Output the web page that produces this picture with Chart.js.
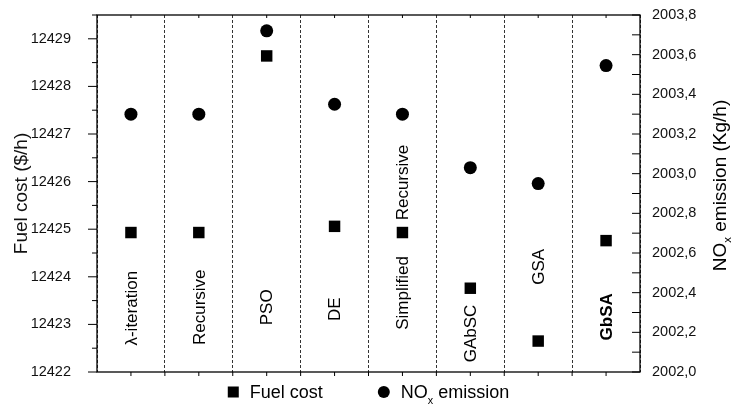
<!DOCTYPE html>
<html lang="en">
<head>
    <meta charset="UTF-8">
    <title>Fuel cost and NOx emission</title>
    <script src="https://cdn.jsdelivr.net/npm/chart.js"></script>
    <style>
        html, body { margin: 0; padding: 0; background: #fff; }
        #wrap { width: 732px; height: 407px; }
    </style>
</head>
<body>
    <div id="wrap">
        <canvas id="myChart"></canvas>
    </div>
</body>
<script>

    const categories = ['λ-iteration', 'Recursive', 'PSO', 'DE', 'Simplified Recursive', 'GAbSC', 'GSA', 'GbSA']
    const fuelCost = [12424.93, 12424.93, 12428.64, 12425.06, 12424.93, 12423.76, 12422.65, 12424.76]
    const noxEmission = [2003.30, 2003.30, 2003.72, 2003.35, 2003.30, 2003.03, 2002.95, 2003.545]

    // axis ranges
    const fuelMin = 12422, fuelMax = 12429.5
    const noxMin = 2002.0, noxMax = 2003.8

    // category names written inside the plot (centre given on the fuel cost axis)
    const labelLines = [['λ-iteration'], ['Recursive'], ['PSO'], ['DE'], ['Simplified', 'Recursive'], ['GAbSC'], ['GSA'], ['GbSA']]
    const labelAt = [[12423.34], [12423.36], [12423.36], [12423.32], [12423.66, 12425.98], [12422.81], [12424.21], [12423.16]]

    const FONT = "'Liberation Sans', Arial, sans-serif"

    function richWidth(ctx, parts, size) {
        let w = 0
        for (const p of parts) {
            ctx.font = (p.sub ? size * 0.6 : size) + 'px ' + FONT
            w += ctx.measureText(p.t).width
        }
        return w
    }

    function drawRich(ctx, parts, x, y, size) {
        let cx = x
        for (const p of parts) {
            ctx.font = (p.sub ? size * 0.6 : size) + 'px ' + FONT
            ctx.fillText(p.t, cx, y + (p.sub ? size * 0.3 : 0))
            cx += ctx.measureText(p.t).width
        }
    }

    // fixed axis widths, no extra room for the end labels
    function fixWidth(w) {
        return (s) => {
            s.width = w
            s.paddingTop = 0
            s.paddingBottom = 0
        }
    }

    const decor = {
        id: 'decor',
        afterDraw(chart) {
            const { ctx, chartArea: a, scales } = chart
            const x = scales.x, yl = scales.y, yr = scales.y1
            ctx.save()

            // frame
            ctx.strokeStyle = '#000'
            ctx.lineWidth = 1.3
            ctx.strokeRect(a.left, a.top, a.right - a.left, a.bottom - a.top)

            // tick marks
            ctx.lineWidth = 1
            ctx.beginPath()
            for (let v = fuelMin; v <= fuelMax + 1e-9; v += 0.5) {
                const p = yl.getPixelForValue(v)
                const len = Number.isInteger(v) ? 9 : 5
                ctx.moveTo(a.left - len, p)
                ctx.lineTo(a.left, p)
            }
            const nr = Math.round((noxMax - noxMin) / 0.1)
            for (let i = 0; i <= nr; i++) {
                const p = yr.getPixelForValue(noxMin + i * 0.1)
                ctx.moveTo(a.right - 8, p)
                ctx.lineTo(a.right, p)
            }
            for (let i = 0; i < categories.length; i++) {
                const c = x.getPixelForValue(i)
                const b = i < categories.length - 1 ? (c + x.getPixelForValue(i + 1)) / 2 : null
                ctx.moveTo(c, a.top)
                ctx.lineTo(c, a.top + 3)
                ctx.moveTo(c, a.bottom)
                ctx.lineTo(c, a.bottom + 4)
                if (b !== null) {
                    ctx.moveTo(b, a.bottom)
                    ctx.lineTo(b, a.bottom + 4)
                }
            }
            ctx.stroke()

            // category names, vertical
            ctx.fillStyle = '#000'
            ctx.textAlign = 'center'
            ctx.textBaseline = 'middle'
            labelLines.forEach((lines, i) => {
                const cx = x.getPixelForValue(i)
                lines.forEach((txt, j) => {
                    const cy = yl.getPixelForValue(labelAt[i][j])
                    ctx.save()
                    ctx.translate(cx, cy)
                    ctx.rotate(-Math.PI / 2)
                    ctx.font = (txt === 'GbSA' ? 'bold ' : '') + '17px ' + FONT
                    ctx.fillText(txt, 0, 1)
                    ctx.restore()
                })
            })

            // right axis title
            const tSize = 19
            const title = [{ t: 'NO' }, { t: 'x', sub: true }, { t: ' emission (Kg/h)' }]
            ctx.textAlign = 'left'
            ctx.textBaseline = 'alphabetic'
            ctx.save()
            ctx.translate(a.right + 79, (a.top + a.bottom) / 2 - 8)
            ctx.rotate(-Math.PI / 2)
            drawRich(ctx, title, -richWidth(ctx, title, tSize) / 2, tSize * 0.35, tSize)
            ctx.restore()

            // legend
            const lSize = 18
            const item1 = [{ t: 'Fuel cost' }]
            const item2 = [{ t: 'NO' }, { t: 'x', sub: true }, { t: ' emission' }]
            const w1 = richWidth(ctx, item1, lSize), w2 = richWidth(ctx, item2, lSize)
            const total = 11 + 11 + w1 + 55 + 12 + 11 + w2
            let lx = (a.left + a.right) / 2 - total / 2
            const ly = a.bottom + 20
            ctx.fillRect(lx, ly - 5.5, 11, 11)
            lx += 22
            drawRich(ctx, item1, lx, ly + lSize * 0.35, lSize)
            lx += w1 + 55
            ctx.beginPath()
            ctx.arc(lx + 6, ly, 6, 0, Math.PI * 2)
            ctx.fill()
            lx += 23
            drawRich(ctx, item2, lx, ly + lSize * 0.35, lSize)

            ctx.restore()
        }
    }

    const chart = new Chart(
        document.getElementById('myChart'),
        {
            type: 'line',
            data: {
                labels: categories,
                datasets: [{
                    label: 'Fuel cost',
                    data: fuelCost,
                    yAxisID: 'y',
                    showLine: false,
                    pointStyle: 'rect',
                    pointRadius: 8.1,
                    pointBackgroundColor: '#000',
                    pointBorderWidth: 0
                }, {
                    label: 'NOx emission',
                    data: noxEmission,
                    yAxisID: 'y1',
                    showLine: false,
                    pointStyle: 'circle',
                    pointRadius: 6.5,
                    pointBackgroundColor: '#000',
                    pointBorderWidth: 0
                }]
            },
            options: {
                responsive: true,
                maintainAspectRatio: false,
                animation: false,
                layout: { padding: { top: 15, bottom: 35, left: 0, right: 0 } },
                plugins: {
                    legend: { display: false },
                    tooltip: { enabled: false }
                },
                scales: {
                    x: {
                        offset: true,
                        grid: { offset: true, color: '#333', lineWidth: 1, drawTicks: false },
                        border: { display: false, dash: [3, 2] },
                        ticks: { display: false },
                        afterFit: (s) => { s.height = 0 }
                    },
                    y: {
                        position: 'left',
                        min: fuelMin,
                        max: fuelMax,
                        grid: { display: false },
                        border: { display: false },
                        ticks: {
                            stepSize: 1,
                            padding: 18,
                            color: '#111',
                            font: { family: FONT, size: 14.5 },
                            callback: (v) => Number.isInteger(v) ? String(v) : ''
                        },
                        title: {
                            display: true,
                            text: 'Fuel cost ($/h)',
                            color: '#111',
                            font: { family: FONT, size: 19 },
                            padding: { top: 10, bottom: 0 }
                        },
                        afterFit: fixWidth(97)
                    },
                    y1: {
                        position: 'right',
                        min: noxMin,
                        max: noxMax,
                        grid: { display: false },
                        border: { display: false },
                        ticks: {
                            stepSize: 0.2,
                            padding: 4,
                            color: '#111',
                            font: { family: FONT, size: 14.5 },
                            callback: (v) => v.toFixed(1).replace('.', ',')
                        },
                        afterFit: fixWidth(92)
                    }
                }
            },
            plugins: [decor]
        })

</script>
</html>
